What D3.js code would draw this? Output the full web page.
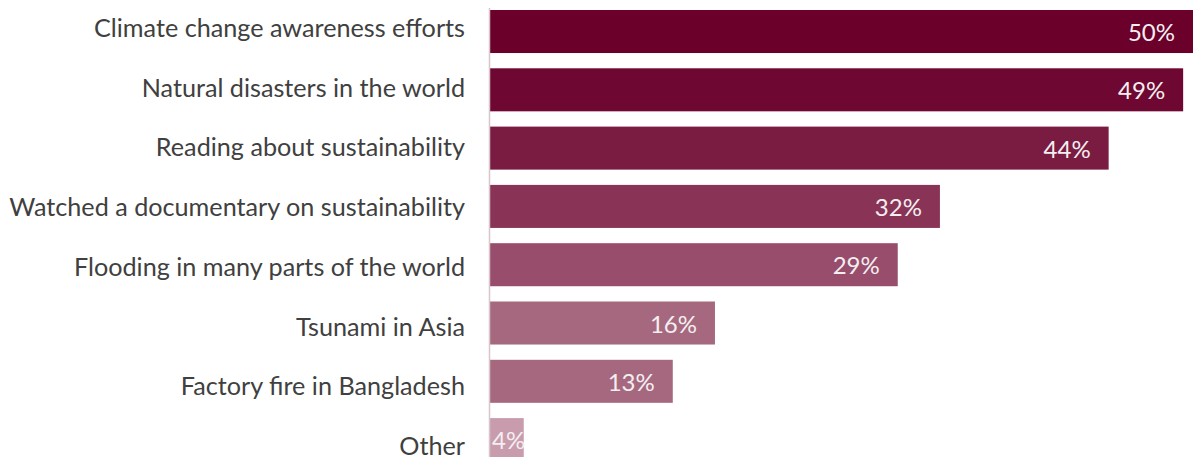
<!DOCTYPE html>
<html>
<head>
<meta charset="utf-8">
<script src="https://cdn.jsdelivr.net/npm/d3@7"></script>
<style>
  html, body { margin: 0; padding: 0; background: #ffffff; }
  svg { display: block; }
</style>
</head>
<body>
<svg id="chart" width="1196" height="457"></svg>
<script>
const categories = [
  "Climate change awareness efforts",
  "Natural disasters in the world",
  "Reading about sustainability",
  "Watched a documentary on sustainability",
  "Flooding in many parts of the world",
  "Tsunami in Asia",
  "Factory fire in Bangladesh",
  "Other"
];
const values = [50, 49.3, 44, 32, 29, 16, 13, 2.4];
const valueLabels = ["50%", "49%", "44%", "32%", "29%", "16%", "13%", "4%"];
const barColors = ["#6b002b", "#6e0832", "#7a1c42", "#893356", "#974d6b", "#a6687f", "#a6687f", "#c89cad"];

const svg = d3.select("#chart");
const x0 = 490;
const x = d3.scaleLinear().domain([0, 50]).range([x0, 1193]);
const step = 58.3;
const y = d3.scaleBand()
  .domain(categories)
  .range([10 - 0.131 * step, 10 - 0.131 * step + categories.length * step])
  .paddingInner(0.262)
  .paddingOuter(0.131);
const yLabel = d3.scalePoint().domain(categories).range([27, 445]);

// bars
svg.append("g").selectAll("rect")
  .data(categories)
  .join("rect")
  .attr("x", x(0))
  .attr("y", d => y(d))
  .attr("width", (d, i) => x(values[i]) - x(0))
  .attr("height", y.bandwidth())
  .attr("fill", (d, i) => barColors[i]);

// axis line
svg.append("line")
  .attr("x1", x0 - 0.5).attr("x2", x0 - 0.5)
  .attr("y1", 8).attr("y2", 457)
  .attr("stroke", "#d8c6ce").attr("stroke-width", 1.5);

// category labels
svg.append("g").selectAll("text")
  .data(categories)
  .join("text")
  .attr("x", 465)
  .attr("y", d => yLabel(d))
  .attr("text-anchor", "end")
  .attr("dominant-baseline", "central")
  .attr("font-family", "Lato, 'Open Sans', sans-serif")
  .attr("font-size", 25.2)
  .attr("fill", "#404040")
  .text(d => d);

// value labels
const vl = svg.append("g").selectAll("text")
  .data(categories)
  .join("text")
  .attr("y", d => y(d) + y.bandwidth() / 2)
  .attr("dominant-baseline", "central")
  .attr("text-anchor", "end")
  .attr("font-family", "Lato, 'Open Sans', sans-serif")
  .attr("font-size", 24)
  .attr("fill", "#f4eef0")
  .text((d, i) => valueLabels[i]);

vl.each(function(d, i) {
  const w = this.getComputedTextLength();
  const xe = Math.max(x(values[i]) - 18, x(0) + 2 + w);
  d3.select(this).attr("x", xe);
});
</script>
</body>
</html>
